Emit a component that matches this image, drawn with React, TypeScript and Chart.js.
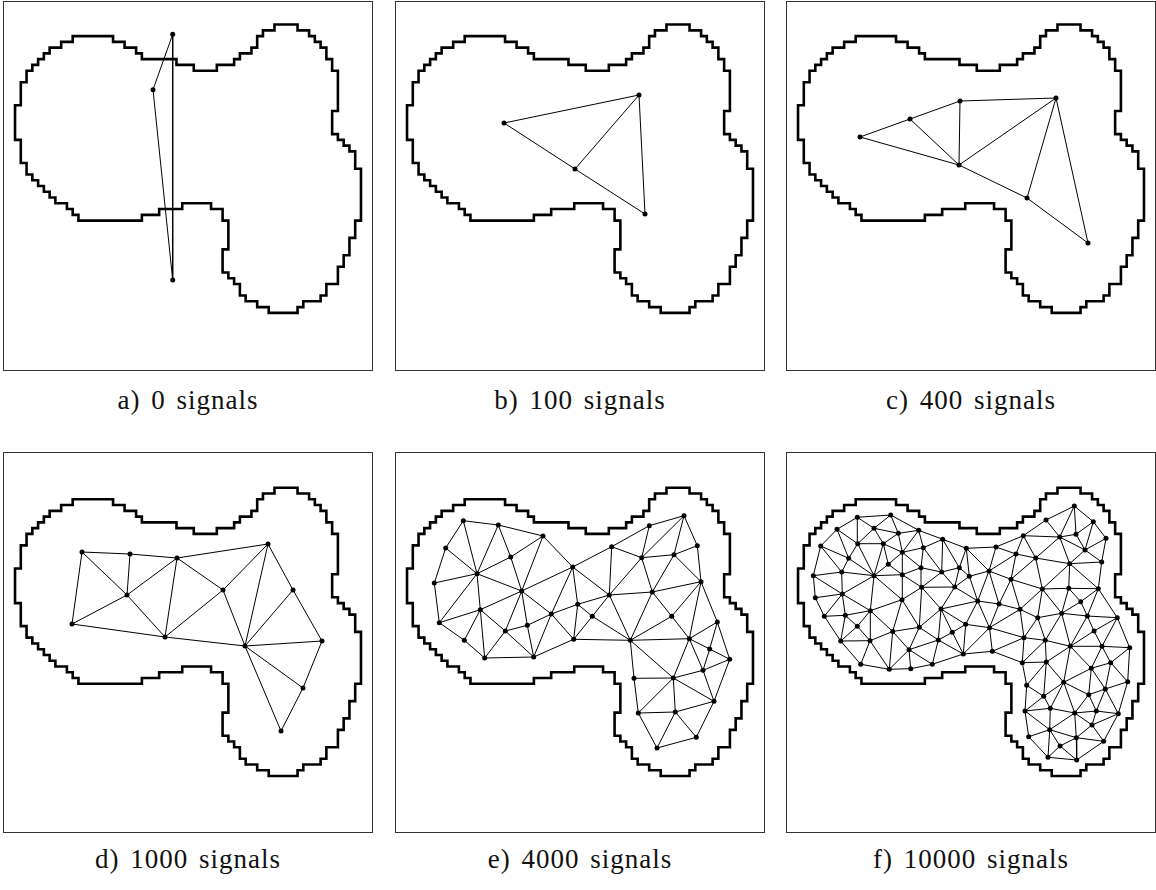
import React, { useEffect, useRef } from "react";
import { Chart, registerables } from "chart.js";

Chart.register(...registerables);

// grid cell size of the staircase outline (64 cells across the box)
const CELL = 369 / 64;

// staircase outline, in grid cells (x right, y down)
const OUTLINE: [number, number][] = [
  [12, 6], [19, 6], [19, 7], [21, 7], [21, 8], [23, 8], [23, 9], [24, 9], [24, 10], [30, 10], [30, 11], [33, 11], [33, 12],
  [37, 12], [37, 11], [40, 11], [40, 10], [41, 10], [41, 9], [43, 9], [43, 8], [44, 8], [44, 6], [45, 6], [45, 5], [47, 5],
  [47, 4], [51, 4], [51, 5], [53, 5], [53, 6], [54, 6], [54, 7], [55, 7], [55, 8], [56, 8], [56, 10], [57, 10], [57, 12],
  [58, 12], [58, 19], [57, 19], [57, 23], [58, 23], [58, 24], [59, 24], [59, 25], [60, 25], [60, 26], [61, 26], [61, 29],
  [62, 29], [62, 38], [61, 38], [61, 41], [60, 41], [60, 44], [59, 44], [59, 46], [58, 46], [58, 49], [56, 49], [56, 51],
  [55, 51], [55, 52], [52, 52], [52, 53], [51, 53], [51, 54], [46, 54], [46, 53], [44, 53], [44, 52], [42, 52], [42, 51],
  [41, 51], [41, 49], [40, 49], [40, 48], [39, 48], [39, 47], [38, 47], [38, 43], [39, 43], [39, 38], [38, 38], [38, 36],
  [36, 36], [36, 35], [31, 35], [31, 36], [27, 36], [27, 37], [24, 37], [24, 38], [13, 38], [13, 37], [12, 37], [12, 36],
  [11, 36], [11, 35], [9, 35], [9, 34], [8, 34], [8, 33], [7, 33], [7, 32], [6, 32], [6, 31], [5, 31], [5, 30], [4, 30],
  [4, 28], [3, 28], [3, 24], [2, 24], [2, 18], [3, 18], [3, 14], [4, 14], [4, 12], [5, 12], [5, 11], [6, 11], [6, 10],
  [7, 10], [7, 9], [8, 9], [8, 8], [10, 8], [10, 7], [12, 7],
];

const LABELS = ["a) 0 signals", "b) 100 signals", "c) 400 signals", "d) 1000 signals", "e) 4000 signals", "f) 10000 signals"];

// node positions (local units, origin = top-left of the outline grid)
const A_NODES: [number, number][] = [[169.2, 32.8], [149.5, 88.2], [169.2, 278.5]];
const A_EDGES: [number, number][] = [[0, 1], [1, 2], [0, 2]];

const B_NODES: [number, number][] = [[108.5, 121.5], [243.5, 93.5], [179.5, 167.5], [249.5, 212.5]];
const B_EDGES: [number, number][] = [[0, 1], [0, 2], [2, 1], [1, 3], [2, 3]];

const C_NODES: [number, number][] = [
  [73.5, 135.5], [123.5, 117.5], [173.5, 99.5], [269.5, 96.5], [172.5, 163.5], [240.5, 196.5], [301.5, 241.5],
];
const C_EDGES: [number, number][] = [
  [0, 1], [1, 2], [2, 3], [0, 4], [1, 4], [2, 4], [3, 4], [4, 5], [5, 3], [3, 6], [5, 6],
];

const D_NODES: [number, number][] = [
  [78.5, 87.3], [126.5, 89.3], [173.5, 93.3], [264.5, 79.3], [123.5, 130.3], [219.5, 125.3], [289.5, 125.3],
  [68.5, 159.3], [161.5, 172.3], [241.5, 181.3], [318.5, 176.3], [299.5, 223.3], [277.5, 266.3],
];
const D_EDGES: [number, number][] = [
  [0, 1], [1, 2], [2, 3], [0, 4], [1, 4], [2, 4], [0, 7], [7, 4], [7, 8], [4, 8], [2, 8], [2, 5], [5, 8],
  [5, 3], [5, 9], [3, 9], [3, 6], [6, 9], [6, 10], [8, 9], [9, 10], [9, 11], [9, 12], [10, 11], [11, 12],
];

const E_NODES: [number, number][] = [
  [67.8, 56], [102.8, 60.3], [147.5, 71.3], [50.2, 83.3], [115.2, 92.3], [81.5, 109], [177.2, 102.3], [38.8, 118.3],
  [126.2, 126.3], [182.2, 139.6], [84.8, 145], [155.8, 149.3], [43.8, 158], [131.8, 160.6], [109.8, 166.3],
  [68.8, 175.6], [178.2, 174.6], [89.2, 193.3], [138.2, 192.3],
  [288.5, 51], [253.8, 61], [216.2, 82], [301.8, 81], [246.2, 93], [278.5, 90], [305.5, 117], [213.8, 130.3],
  [256.8, 127.3], [196.8, 151.6], [276.2, 151.6], [321.8, 157.3], [234.8, 175.6], [293.8, 174], [314.2, 184.3],
  [334.2, 194.6],
  [307.5, 205.6], [277.8, 213.3], [238.5, 213.6], [318.5, 236.6], [242.8, 248.3], [279.8, 247.3], [300.8, 272.6],
  [261.5, 283.3],
];
const E_EDGES: [number, number][] = [
  [0, 1], [1, 2], [0, 3], [0, 5], [1, 5], [1, 4], [4, 2], [4, 5], [4, 8], [2, 8], [2, 6], [3, 5], [3, 7], [7, 5],
  [5, 8], [5, 10], [5, 12], [7, 12], [12, 10], [12, 15], [15, 10], [15, 17], [10, 17], [10, 14], [10, 8], [8, 14],
  [8, 13], [8, 11], [8, 6], [6, 11], [6, 9], [9, 11], [9, 16], [11, 16], [11, 13], [13, 14], [14, 17], [14, 18],
  [13, 18], [11, 18], [17, 18], [18, 16],
  [6, 21], [6, 26], [9, 26], [9, 28], [16, 28], [16, 31],
  [19, 20], [20, 21], [19, 22], [21, 23], [20, 23], [19, 23], [19, 24], [23, 24], [22, 24], [22, 25], [24, 25],
  [21, 26], [23, 26], [23, 27], [24, 27], [26, 27], [27, 25], [27, 29], [25, 29], [26, 28], [26, 31], [27, 31],
  [28, 31], [29, 31], [29, 32], [25, 32], [25, 30], [30, 32], [30, 33], [30, 34], [32, 33], [33, 34], [31, 32],
  [31, 37], [31, 36], [32, 36], [32, 35], [33, 35], [34, 35], [34, 38], [35, 38], [35, 36], [36, 38], [36, 37],
  [36, 39], [36, 40], [37, 39], [38, 40], [39, 40], [39, 42], [40, 42], [40, 41], [38, 41], [41, 42],
];

const F_NODES: [number, number][] = [
  [70.8, 52.6], [104.2, 50.3], [50.5, 64.6], [87.5, 63.6], [111.8, 68.6], [132.2, 65.6], [156.2, 74.6], [179.8, 83.6],
  [34.2, 81.3], [71.2, 79], [96.8, 79], [136.8, 83], [115.8, 87.6], [62.2, 93.6], [101.8, 99.6], [134.5, 103],
  [172.8, 103], [26.8, 111], [55.2, 107.3], [87.5, 111], [115.8, 110], [155.2, 107.3], [182.8, 111.6],
  [135.2, 122.6], [168.2, 122.3], [28.8, 133], [55.8, 129.3], [115.5, 135], [83.8, 146], [154.5, 144.3],
  [37.8, 151.6], [58.8, 150.6], [70.8, 161.6], [106.2, 166.8], [132.8, 162.6], [165.8, 167.6], [179.2, 159.6],
  [287.8, 41.3], [259.5, 55.3], [306.8, 57], [236.8, 71], [273.2, 72.3], [289.5, 69.6], [319.5, 73.6],
  [209.5, 82.3], [229.5, 89.3], [249.2, 93.3], [298.5, 85.3], [283.2, 99], [315.2, 97.3], [202.5, 106.3],
  [224.5, 114.6], [255.8, 124.3], [282.2, 123.6], [311.8, 124], [191.2, 136.3], [212.5, 139.3], [233.5, 144.6],
  [294.2, 137], [275.2, 148.6], [251.2, 153], [300.8, 151.3], [330.8, 153], [203, 163], [307.5, 166.3],
  [54.2, 176.3], [83.5, 176], [151.8, 175.3], [122.5, 185], [176.8, 189.3], [74.2, 199.6], [102.8, 204.6],
  [124.2, 204], [145.8, 199.6], [205.8, 186.6], [237.5, 173], [258.8, 175.6], [283.8, 181.6], [315.5, 181.6],
  [343.2, 183], [235.8, 198], [259.8, 197.3], [324.2, 198], [304.8, 203.6], [240.2, 220.6], [277.2, 217.6],
  [341.2, 217], [318.8, 224.3], [257.2, 231.6], [302.2, 230], [238.5, 246.3], [263.8, 243.6], [288.2, 248.3],
  [309.8, 246.3], [331.8, 249], [305.5, 260.3], [263.2, 265], [242.2, 272], [289.8, 273], [317.2, 276.6],
  [273.5, 281.3], [261.5, 292.6], [290.2, 295.3],
];

type Pt = { x: number; y: number };

function outlinePts(): Pt[] {
  return OUTLINE.map(([gx, gy]) => ({ x: gx * CELL, y: gy * CELL }));
}

function inside(p: Pt, poly: Pt[]): boolean {
  let c = false;
  for (let i = 0, j = poly.length - 1; i < poly.length; j = i++) {
    const a = poly[i], b = poly[j];
    if ((a.y > p.y) !== (b.y > p.y) && p.x < ((b.x - a.x) * (p.y - a.y)) / (b.y - a.y) + a.x) c = !c;
  }
  return c;
}

// neighbour links of the dense network (Delaunay of the read nodes, restricted to the shape)
function linkEdges(nodes: [number, number][], maxLen: number): [number, number][] {
  const P: Pt[] = nodes.map(([x, y]) => ({ x, y }));
  const n = P.length;
  P.push({ x: -1e4, y: -1e4 }, { x: 3e4, y: -1e4 }, { x: -1e4, y: 3e4 });
  type T = { a: number; b: number; c: number; cx: number; cy: number; r2: number };
  const circ = (a: number, b: number, c: number): T => {
    const A = P[a], B = P[b], C = P[c];
    const d = 2 * (A.x * (B.y - C.y) + B.x * (C.y - A.y) + C.x * (A.y - B.y));
    const a2 = A.x * A.x + A.y * A.y, b2 = B.x * B.x + B.y * B.y, c2 = C.x * C.x + C.y * C.y;
    const ux = (a2 * (B.y - C.y) + b2 * (C.y - A.y) + c2 * (A.y - B.y)) / d;
    const uy = (a2 * (C.x - B.x) + b2 * (A.x - C.x) + c2 * (B.x - A.x)) / d;
    return { a, b, c, cx: ux, cy: uy, r2: (A.x - ux) ** 2 + (A.y - uy) ** 2 };
  };
  let tris: T[] = [circ(n, n + 1, n + 2)];
  for (let i = 0; i < n; i++) {
    const p = P[i];
    const bad: T[] = [], good: T[] = [];
    tris.forEach((t) => ((p.x - t.cx) ** 2 + (p.y - t.cy) ** 2 < t.r2 ? bad : good).push(t));
    const cnt = new Map<string, [number, number]>();
    const seen = new Map<string, number>();
    bad.forEach((t) => {
      [[t.a, t.b], [t.b, t.c], [t.c, t.a]].forEach(([u, v]) => {
        const k = u < v ? `${u}-${v}` : `${v}-${u}`;
        seen.set(k, (seen.get(k) || 0) + 1);
        cnt.set(k, [u, v]);
      });
    });
    tris = good;
    seen.forEach((c, k) => {
      if (c === 1) {
        const [u, v] = cnt.get(k)!;
        tris.push(circ(u, v, i));
      }
    });
  }
  const poly = outlinePts();
  const out = new Map<string, [number, number]>();
  tris.forEach((t) => {
    [[t.a, t.b], [t.b, t.c], [t.c, t.a]].forEach(([u, v]) => {
      if (u >= n || v >= n) return;
      const len = Math.hypot(P[u].x - P[v].x, P[u].y - P[v].y);
      if (len > maxLen) return;
      if (!inside({ x: (P[u].x + P[v].x) / 2, y: (P[u].y + P[v].y) / 2 }, poly)) return;
      const k = u < v ? `${u}-${v}` : `${v}-${u}`;
      out.set(k, [u, v]);
    });
  });
  return Array.from(out.values());
}

const F_EDGES = linkEdges(F_NODES, 46);

const boxPlugin = {
  id: "panelBox",
  afterDraw(chart: any) {
    const { ctx, width, height } = chart;
    ctx.save();
    ctx.strokeStyle = "#333";
    ctx.lineWidth = 1;
    ctx.strokeRect(0.5, 0.5, width - 1, height - 1);
    ctx.restore();
  },
};

type PanelProps = {
  left: number;
  top: number;
  width: number;
  height: number;
  originX: number;
  originY: number;
  nodes: [number, number][];
  edges: [number, number][];
};

function Panel({ left, top, width, height, originX, originY, nodes, edges }: PanelProps) {
  const ref = useRef<HTMLCanvasElement>(null);
  useEffect(() => {
    const pts = nodes.map(([x, y]) => ({ x, y }));
    const edgeData: Pt[] = [];
    edges.forEach(([i, j]) => {
      edgeData.push({ x: nodes[i][0], y: nodes[i][1] }, { x: nodes[j][0], y: nodes[j][1] }, { x: NaN, y: NaN });
    });
    const outline = outlinePts();
    outline.push({ ...outline[0] });
    outline.push({ ...outline[1] });
    const dx = originX - left;
    const dy = originY - top;
    const chart = new Chart(ref.current as HTMLCanvasElement, {
      type: "scatter",
      data: {
        datasets: [
          {
            data: pts,
            pointRadius: 2.5,
            pointBackgroundColor: "#000",
            pointBorderColor: "#000",
            pointBorderWidth: 0,
            showLine: false,
          },
          {
            data: edgeData,
            showLine: true,
            borderColor: "#000",
            borderWidth: 1,
            pointRadius: 0,
            spanGaps: false,
          },
          {
            data: outline,
            showLine: true,
            borderColor: "#000",
            borderWidth: 2.6,
            pointRadius: 0,
            borderJoinStyle: "miter",
            borderCapStyle: "butt",
          },
        ] as any,
      },
      options: {
        responsive: false,
        maintainAspectRatio: false,
        animation: false,
        devicePixelRatio: 1,
        events: [],
        layout: { padding: 0, autoPadding: false } as any,
        plugins: { legend: { display: false }, tooltip: { enabled: false } },
        scales: {
          x: { type: "linear", display: false, min: -dx, max: width - dx, bounds: "data" },
          y: { type: "linear", display: false, reverse: true, min: -dy, max: height - dy, bounds: "data" },
        },
      },
      plugins: [boxPlugin],
    });
    return () => chart.destroy();
  }, []);
  return (
    <canvas
      ref={ref}
      width={width}
      height={height}
      style={{ position: "absolute", left, top, width, height }}
    />
  );
}

const FONT = "'Liberation Serif', 'Times New Roman', serif";

function Label({ cx, baseline, text }: { cx: number; baseline: number; text: string }) {
  return (
    <div
      style={{
        position: "absolute",
        left: cx - 200,
        top: baseline - 22.6,
        width: 400,
        textAlign: "center",
        fontFamily: FONT,
        fontSize: 27,
        lineHeight: "27px",
        letterSpacing: 1,
        wordSpacing: 3,
        color: "#111",
        whiteSpace: "nowrap",
      }}
    >
      {text}
    </div>
  );
}

export default function App() {
  const cols = [
    { left: 3, originX: 3.5 },
    { left: 395, originX: 395.5 },
    { left: 786, originX: 786.5 },
  ];
  const rows = [
    { top: 1, height: 370, originY: 1.5, baseline: 410 },
    { top: 452, height: 381, originY: 464.7, baseline: 869 },
  ];
  const data: [[number, number][], [number, number][]][] = [
    [A_NODES, A_EDGES],
    [B_NODES, B_EDGES],
    [C_NODES, C_EDGES],
    [D_NODES, D_EDGES],
    [E_NODES, E_EDGES],
    [F_NODES, F_EDGES],
  ];
  return (
    <div style={{ position: "absolute", left: 0, top: 0, width: 1156, height: 890, background: "#fff" }}>
      {data.map(([nodes, edges], k) => {
        const c = cols[k % 3];
        const r = rows[Math.floor(k / 3)];
        return (
          <React.Fragment key={k}>
            <Panel
              left={c.left}
              top={r.top}
              width={370}
              height={r.height}
              originX={c.originX}
              originY={r.originY}
              nodes={nodes}
              edges={edges}
            />
            <Label cx={c.left + 185} baseline={r.baseline} text={LABELS[k]} />
          </React.Fragment>
        );
      })}
    </div>
  );
}
